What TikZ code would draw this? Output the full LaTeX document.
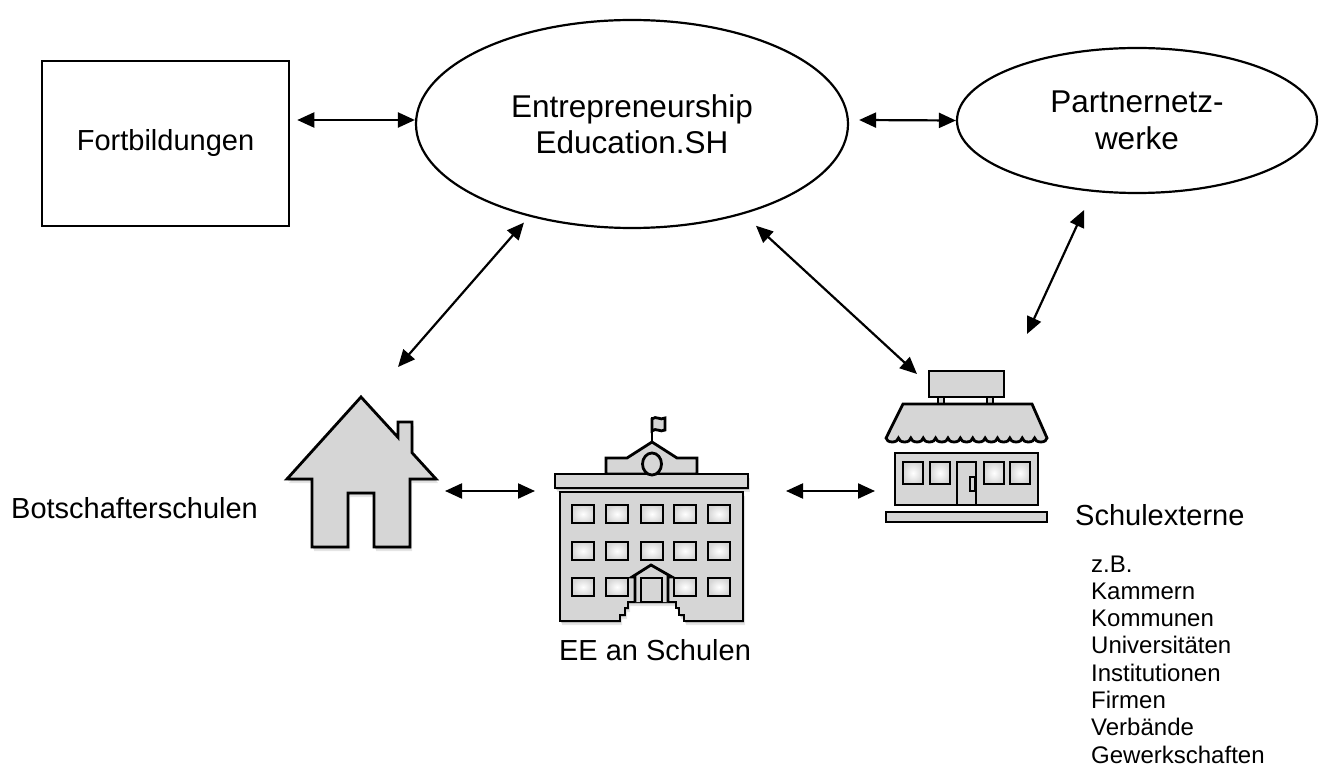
\documentclass[tikz,border=0pt]{standalone}
\usepackage{fontspec}
\setmainfont{Liberation Sans}
\usetikzlibrary{shapes.geometric, arrows.meta, shadows}
\definecolor{iconfill}{HTML}{D6D6D6}

\begin{document}
\begin{tikzpicture}[x=1pt, y=-1pt,
	box/.style={draw, line width=2.5pt, minimum width=247pt, minimum height=165pt, font=\fontsize{29}{36}\selectfont},
	oval/.style={ellipse, draw, line width=2.2pt, inner sep=0pt, align=center, font=\fontsize{31.5}{36.5}\selectfont},
	lbl/.style={font=\fontsize{29}{36}\selectfont, inner sep=0pt},
	listitem/.style={font=\fontsize{24}{27}\selectfont, inner sep=0pt, anchor=base west},
	biarrow/.style={{Triangle[length=17pt,width=15pt]}-{Triangle[length=17pt,width=15pt]}, line width=2.2pt},
	icon/.style={draw, fill=iconfill, line width=2.8pt, line join=miter},
	soft/.style={drop shadow={shadow xshift=1pt, shadow yshift=-2pt, opacity=.18, fill=black},
		drop shadow={shadow xshift=2pt, shadow yshift=-4pt, opacity=.1, fill=black}},
	pane/.style={draw, line width=2.8pt, inner color=white, outer color=iconfill}]
			
			\useasboundingbox (0,0) rectangle (1325,767);
			
			% top row
			\node[box] (fort) at (165.5,143.5) {Fortbildungen};
			\node[oval, minimum width=432pt, minimum height=208pt] (ees) at (632,124) {Entrepreneurship\\Education.SH};
			\node[oval, minimum width=360pt, minimum height=145pt] (pnw) at (1137,120.5) {Partnernetz-\\werke};
			
			% house
			\draw[icon, soft] (361,397) -- (398,437.4) -- (398,422) -- (412,422) -- (412,452.7) -- (436,479)
				-- (410,479) -- (410,547) -- (374,547) -- (374,493) -- (348,493) -- (348,547)
				-- (312,547) -- (312,479) -- (287,479) -- cycle;
			
			% school
			\draw[icon] (652,442) -- (652,417);
			\draw[icon] (652,419) .. controls (656,415) and (660,421) .. (665,418) -- (665,430)
				.. controls (660,433) and (656,427) .. (652,431) -- cycle;
			\draw[icon] (606,474) -- (606,458) -- (627,458) -- (652,442) -- (677,458) -- (697,458) -- (697,474) -- cycle;
			\draw[icon, soft] (555,474) rectangle (748,488);
			\draw[icon] (652,464) ellipse[x radius=9.5, y radius=11];
			\draw[icon, soft] (560,492) -- (743,492) -- (743,621) -- (684,621) -- (684,615) -- (679,615) -- (679,608)
				-- (676,608) -- (676,602) -- (628,602) -- (628,608) -- (625,608) -- (625,615) -- (620,615)
				-- (620,621) -- (560,621) -- cycle;
			\foreach \wx in {572,606,641,674,708} {
				\draw[pane] (\wx,505) rectangle ++(22,18);
				\draw[pane] (\wx,542) rectangle ++(22,18);
			}
			\foreach \wx in {572,606,674,708}
				\draw[pane] (\wx,578) rectangle ++(22,18);
			\draw[icon] (635,602) -- (635,577) -- (632,577) -- (651,565) -- (672,577) -- (668,577) -- (668,602);
			\draw[icon] (641,578) rectangle (662,602);
			
			% shop
			\draw[icon] (929,371) rectangle (1004,397);
			\draw[icon] (938,397) rectangle (993,405);
			\draw[icon, fill=white] (944,397) rectangle (987,405);
			\draw[icon] (903,404) -- (1032,404) -- (1047,438)
				\foreach \k in {1,...,13} {arc[start angle=0, end angle=180, x radius=6.19, y radius=4]} -- cycle;
			\draw[icon] (895,453) rectangle (1038,505);
			\foreach \wx in {903,930,984,1010}
				\draw[pane] (\wx,462) rectangle ++(20,22);
			\draw[icon] (957,462) rectangle (976,505);
			\draw[icon] (970,477) rectangle (975,491);
			\draw[icon] (886,512) rectangle (1047,522);
			
			% connector ends at the pictures
			\coordinate (house-ne) at (398,367);
			\coordinate (house-e) at (445,491);
			\coordinate (school-w) at (535,491);
			\coordinate (school-e) at (786,491);
			\coordinate (shop-w) at (875,491);
			\coordinate (shop-nw) at (917,374);
			\coordinate (shop-ne) at (1027,334);
			
			\draw[biarrow] ([xshift=7pt,yshift=23.5pt]fort.east) -- ([yshift=4pt]ees.west);
			\draw[biarrow] ([xshift=10pt,yshift=4pt]ees.east) -- (pnw.west);
			\draw[biarrow, shorten <=8pt] (ees.222.4) -- (house-ne);
			\draw[biarrow, shorten <=17pt] (ees.-39.8) -- (shop-nw);
			\draw[biarrow, shorten <=20pt] (pnw.238.2) -- (shop-ne);
			\draw[biarrow] (house-e) -- (school-w);
			\draw[biarrow] (school-e) -- (shop-w);
			
			% labels
			\node[lbl, anchor=base west] (bots) at (11,518) {Botschafterschulen};
			\node[lbl, anchor=base] (eeas) at (655,660) {EE an Schulen};
			\node[lbl, anchor=base west] (sext) at (1075,525) {Schulexterne};
			\foreach \w [count=\i] in {z.B., Kammern, Kommunen, Universitäten, Institutionen, Firmen, Verbände, Gewerkschaften}
				\node[listitem] (bsp\i) at (1091,{572+27.3*(\i-1)}) {\w};
			
		\end{tikzpicture}
\end{document}
